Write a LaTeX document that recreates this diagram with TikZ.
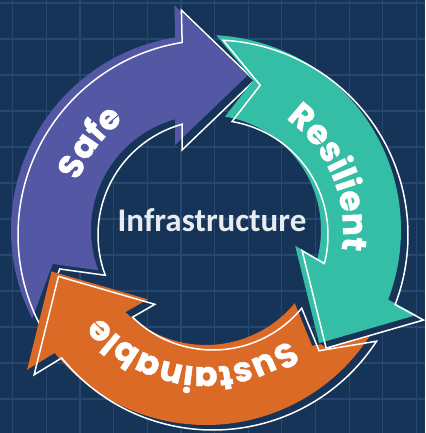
\documentclass[tikz,border=0pt]{standalone}
\usepackage{fontspec}
\usetikzlibrary{decorations.text}
\newfontfamily\bandfont{Poppins}[BoldFeatures={FakeBold=1.2}]
\newfontfamily\centerfont{Carlito}
\definecolor{bg}{HTML}{163358}
\definecolor{gridc}{HTML}{284771}
\definecolor{cpurple}{HTML}{5457A4}
\definecolor{cteal}{HTML}{35BEA6}
\definecolor{corange}{HTML}{DB6A27}
\definecolor{ctext}{HTML}{E8ECF1}
\newcommand\arrpath{(207:195) arc[start angle=207,end angle=99.1,radius=195] -- (98:227) -- (75:160) -- (110:90.5) -- (105.6:115) arc[start angle=105.6,end angle=200.5,radius=115] -- (192.5:157) -- cycle}
\newcommand\onearrow[2]{%
  \foreach \k in {1,...,8}{%
    \begin{scope}[shift={(206+\k*0.875,203-\k*0.625)},rotate=#1]
      \fill[bg] \arrpath;
    \end{scope}}
  \begin{scope}[shift={(206,203)},rotate=#1]
    \fill[#2] \arrpath;
  \end{scope}
  \begin{scope}[shift={(213,198)},rotate=#1]
    \draw[outl] \arrpath;
  \end{scope}}
\tikzset{
  outl/.style={draw=white,line width=1.5pt,line join=miter},
  gridline/.style={draw=gridc,line width=1.1pt},
  bandlabel/.style={decorate,decoration={text along path,text align=center,
      text color=white,text={|\bandfont\bfseries\fontsize{34}{34}\selectfont|#1}}}
}
\begin{document}
\begin{tikzpicture}[x=1pt,y=1pt]
\useasboundingbox (0,0) rectangle (425,433);
\fill[bg] (0,0) rectangle (425,433);
\foreach \i in {0,...,12}{\draw[gridline] ({12.7+\i*33.65},0) -- ({12.7+\i*33.65},433);}
\foreach \j in {0,...,11}{\draw[gridline] (0,{430-\j*36}) -- (425,{430-\j*36});}
\onearrow{0}{cpurple}
\onearrow{120}{corange}
\onearrow{-120}{cteal}
\begin{scope}[shift={(206,203)}]
  \path[bandlabel=Safe] (203:137) arc[start angle=203,end angle=83,radius=137];
  \path[bandlabel=Resilient] (83:137) arc[start angle=83,end angle=-37,radius=137];
  \path[bandlabel=Sustainable] (-17:137) arc[start angle=-17,end angle=-177,radius=137];
\end{scope}
\node[text=ctext,font=\centerfont\bfseries\fontsize{33}{33}\selectfont,anchor=base,inner sep=0pt] (infra) at (212,201.3) {Infrastructure};
\end{tikzpicture}
\end{document}
